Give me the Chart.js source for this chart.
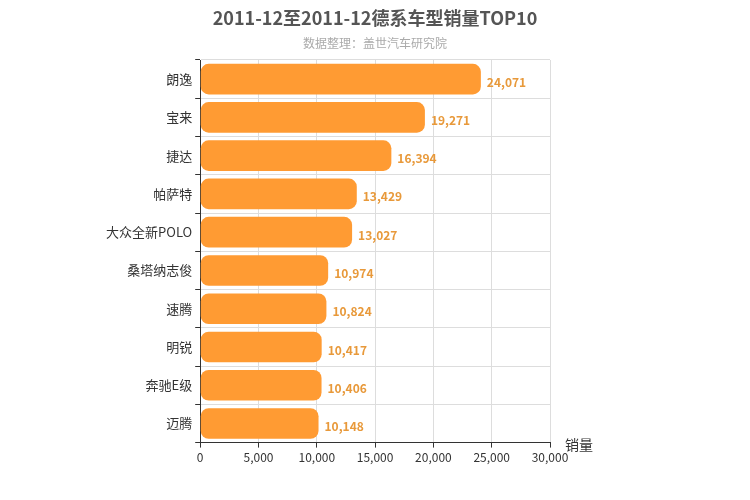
<!DOCTYPE html>
<html><head><meta charset="utf-8">
<script src="https://cdn.jsdelivr.net/npm/chart.js@4"></script>
<style>body{margin:0;background:#fff}#w{width:750px;height:500px}</style>
</head><body><div id="w"><canvas id="c"></canvas></div>
<script>
const categories=["朗逸","宝来","捷达","帕萨特","大众全新POLO","桑塔纳志俊","速腾","明锐","奔驰E级","迈腾"];
const sales=[24071,19271,16394,13429,13027,10974,10824,10417,10406,10148];
const xTicks=[0,5000,10000,15000,20000,25000,30000];
const titleText='2011-12至2011-12德系车型销量TOP10';
const subtitleText='数据整理：盖世汽车研究院';
const F='"Microsoft YaHei","Noto Sans CJK SC",sans-serif';
const labels={id:'lbl',afterDatasetsDraw(ch){const c=ch.ctx;const m=ch.getDatasetMeta(0);c.save();c.font='bold 12px '+F;c.fillStyle='#e8993a';c.textBaseline='middle';
m.data.forEach((b,i)=>{c.fillText(sales[i].toLocaleString('en-US'),b.x+6,b.y+3);});
c.fillStyle='#333';c.font='14px '+F;c.fillText('销量',ch.chartArea.right+15,ch.chartArea.bottom+2);
c.textAlign='center';c.fillStyle='#555';c.font='bold 18px '+F;c.fillText(titleText,ch.width/2,18);
c.fillStyle='#aaa';c.font='12px '+F;c.fillText(subtitleText,ch.width/2,43);c.restore();}};
new Chart(document.getElementById('c'),{type:'bar',data:{labels:categories,datasets:[{data:sales,backgroundColor:'#ff9b33',borderRadius:8,borderSkipped:false,categoryPercentage:0.8,barPercentage:1}]},
options:{indexAxis:'y',responsive:true,maintainAspectRatio:false,animation:false,
layout:{padding:{left:103,right:200,top:60,bottom:32}},
plugins:{legend:{display:false},tooltip:{enabled:false},title:{display:false}},
scales:{x:{min:0,max:30000,ticks:{stepSize:5000,color:'#333',font:{size:12,family:F},callback:v=>v.toLocaleString('en-US')},grid:{color:'#ddd',tickLength:5,tickColor:'#333'},border:{color:'#333'}},
y:{ticks:{color:'#333',font:{size:13,family:F}},grid:{offset:true,color:'#ddd',tickLength:5,tickColor:'#333'},border:{color:'#333'}}}},
plugins:[labels]});
</script></body></html>
